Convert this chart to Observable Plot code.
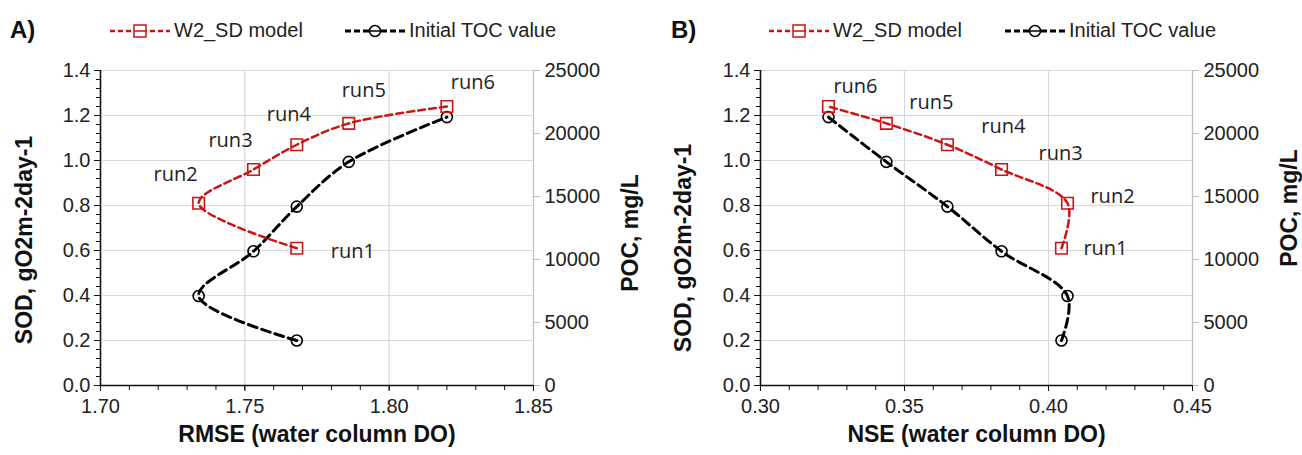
<!DOCTYPE html>
<html>
<head>
<meta charset="utf-8">
<script src="https://cdn.jsdelivr.net/npm/d3@7"></script>
<script src="https://cdn.jsdelivr.net/npm/@observablehq/plot@0.6"></script>
<style>
  html, body { margin: 0; padding: 0; background: #fff; }
  body { width: 1302px; height: 455px; overflow: hidden; font-family: "Liberation Sans", Arial, sans-serif; }
  #wrap { display: flex; }
  .panel { width: 651px; position: relative; }
  .legend { height: 50px; position: relative; }
  .legend .letter { position: absolute; top: 16px; font-weight: bold; font-size: 24px; color: #111; }
  .legend .item { position: absolute; top: 19px; font-size: 20px; color: #222; display: flex; align-items: center; }
  .legend svg { display: block; }
</style>
</head>
<body>
<div id="wrap"></div>
<script>
// ---------------- data ----------------
const runs = ["run1", "run2", "run3", "run4", "run5", "run6"];
const rmse = [1.768, 1.734, 1.753, 1.768, 1.786, 1.820];
const nse = [0.4045, 0.4066, 0.3837, 0.3649, 0.3437, 0.3236];
const sod = [0.61, 0.81, 0.96, 1.07, 1.165, 1.24];        // W2_SD model (left axis)
const poc = [3570, 7100, 10650, 14200, 17750, 21300];     // Initial TOC value (right axis)
const seriesNames = ["W2_SD model", "Initial TOC value"];
const sodTicks = [0, 0.2, 0.4, 0.6, 0.8, 1.0, 1.2, 1.4];
const pocTicks = [0, 5000, 10000, 15000, 20000, 25000];
const rmseTicks = [1.70, 1.75, 1.80, 1.85];
const nseTicks = [0.30, 0.35, 0.40, 0.45];
const panelLetters = ["A)", "B)"];
const xTitles = ["RMSE (water column DO)", "NSE (water column DO)"];
const yTitle = "SOD, gO2m-2day-1";
const y2Title = "POC, mg/L";

// ---------------- layout / style ----------------
const RED = "#cc1414";
const SOD_MAX = 1.4, POC_MAX = 25000;
const toSod = v => v * SOD_MAX / POC_MAX;
const labelOffsetsA = [[56, 3], [-23, -29], [-23, -29], [-8, -30], [15, -33], [26, -24]];
const labelOffsetsB = [[44, 0], [45, -7], [59, -16], [56, -18], [45, -21], [27, -20]];

function minorTicks(domain, step) {
  const n = Math.round((domain[1] - domain[0]) / step);
  return d3.range(n + 1).map(i => +(domain[0] + i * step).toFixed(4));
}

function swatch(color, symbol, dash, width) {
  const s = d3.create("svg").attr("width", 62).attr("height", 20);
  s.append("line").attr("x1", 1).attr("x2", 61).attr("y1", 10).attr("y2", 10)
    .attr("stroke", color).attr("stroke-width", width).attr("stroke-dasharray", dash);
  if (symbol === "square") {
    s.append("rect").attr("x", 25).attr("y", 4).attr("width", 12).attr("height", 12)
      .attr("fill", "#fff").attr("stroke", color).attr("stroke-width", 1.5);
    s.append("line").attr("x1", 25).attr("x2", 37).attr("y1", 10).attr("y2", 10)
      .attr("stroke", color).attr("stroke-width", 1.5);
  } else {
    s.append("circle").attr("cx", 31).attr("cy", 10).attr("r", 5.5)
      .attr("fill", "#fff").attr("stroke", color).attr("stroke-width", 1.5);
    s.append("line").attr("x1", 26).attr("x2", 36).attr("y1", 10).attr("y2", 10)
      .attr("stroke", color).attr("stroke-width", 1.5);
  }
  return s.node();
}

function makePanel(cfg) {
  const panel = document.createElement("div");
  panel.className = "panel";
  const leg = document.createElement("div");
  leg.className = "legend";
  const letter = document.createElement("div");
  letter.className = "letter";
  letter.style.left = cfg.letterX + "px";
  letter.textContent = cfg.letter;
  leg.appendChild(letter);
  [[RED, "square", "5,3", 2.5, cfg.leg1X, seriesNames[0]], ["#000", "circle", "6,3", 3, cfg.leg2X, seriesNames[1]]]
    .forEach(([c, sym, dash, w, x, name]) => {
      const it = document.createElement("div");
      it.className = "item";
      it.style.left = x + "px";
      it.appendChild(swatch(c, sym, dash, w));
      const t = document.createElement("span");
      t.textContent = name;
      t.style.marginLeft = "3px";
      it.appendChild(t);
      leg.appendChild(it);
    });
  panel.appendChild(leg);

  const xs = cfg.xValues;
  const model = runs.map((r, i) => ({run: r, x: xs[i], y: sod[i]}));
  const toc = runs.map((r, i) => ({run: r, x: xs[i], y: toSod(poc[i])}));
  const xd = [cfg.xTicks[0], cfg.xTicks[cfg.xTicks.length - 1]];
  const font = "'Liberation Sans', Arial, sans-serif";

  const chart = Plot.plot({
    width: 651, height: 405,
    marginTop: 20, marginBottom: 70, marginLeft: cfg.ml, marginRight: cfg.mr,
    style: {fontFamily: font, fontSize: "20px", color: "#222", background: "#fff", overflow: "visible"},
    x: {domain: xd},
    y: {domain: [0, SOD_MAX]},
    marks: [
      Plot.ruleY(sodTicks.filter(d => d > 0), {stroke: "#d9d9d9", strokeWidth: 1.2}),
      Plot.ruleX(cfg.xTicks.slice(1, -1), {stroke: "#d9d9d9", strokeWidth: 1.2}),
      Plot.ruleX([xd[1]], {stroke: "#bfbfbf", strokeWidth: 1.3}),
      Plot.axisY(pocTicks.map(toSod), {anchor: "right", tickSize: 6, tickPadding: 5, stroke: "#bfbfbf",
        fill: "#222", tickFormat: d => String(Math.round(d * POC_MAX / SOD_MAX)), label: null, fontSize: 20}),
      Plot.axisY(minorTicks([0, SOD_MAX], 0.04), {anchor: "left", tickSize: 4, tickFormat: () => "", label: null, stroke: "#111"}),
      Plot.axisY(sodTicks, {anchor: "left", tickSize: 6, tickPadding: 4, tickFormat: d3.format(".1f"), label: null, stroke: "#111", fill: "#222", fontSize: 20}),
      Plot.axisX(minorTicks(xd, 0.01), {anchor: "bottom", tickSize: 5, tickFormat: () => "", label: null, stroke: "#111"}),
      Plot.axisX(cfg.xTicks, {anchor: "bottom", tickSize: 6, tickPadding: 7, tickFormat: d3.format(".2f"), label: null, stroke: "#111", fill: "#222", fontSize: 20}),
      Plot.ruleX([xd[0]], {stroke: "#111", strokeWidth: 1.6}),
      Plot.ruleY([0], {stroke: "#111", strokeWidth: 1.6}),
      Plot.line(toc, {x: "x", y: "y", stroke: "#000", strokeWidth: 3, strokeDasharray: "9,5", curve: "catmull-rom"}),
      Plot.dot(toc, {x: "x", y: "y", r: 5.5, stroke: "#000", strokeWidth: 1.6, fill: "none"}),
      Plot.line(model, {x: "x", y: "y", stroke: RED, strokeWidth: 2.5, strokeDasharray: "7,4", curve: "catmull-rom"}),
      Plot.dot(model, {x: "x", y: "y", symbol: "square", r: 6.5, stroke: RED, strokeWidth: 1.6, fill: "none"}),
      ...model.map((d, i) => Plot.text([d], {x: "x", y: "y", text: "run", dx: cfg.offsets[i][0], dy: cfg.offsets[i][1],
        fontSize: 20, fontFamily: "'Open Sans', 'Noto Sans', sans-serif", fill: "#222"})),
      Plot.text([cfg.xTitle], {frameAnchor: "bottom", textAnchor: "middle", dy: 56, fontWeight: "bold", fontSize: 23, fill: "#111"}),
      Plot.text([yTitle], {frameAnchor: "left", textAnchor: "middle", rotate: -90, dx: cfg.ytDx, dy: cfg.ytDy, fontWeight: "bold", fontSize: 23, fill: "#111"}),
      Plot.text([y2Title], {frameAnchor: "right", textAnchor: "middle", rotate: -90, dx: 97, dy: cfg.y2tDy, fontWeight: "bold", fontSize: 23, fill: "#111"})
    ]
  });
  panel.appendChild(chart);
  return panel;
}

const wrap = document.getElementById("wrap");
wrap.appendChild(makePanel({
  letter: panelLetters[0], letterX: 10, leg1X: 109, leg2X: 344,
  xValues: rmse, xTicks: rmseTicks, xTitle: xTitles[0], offsets: labelOffsetsA,
  ml: 100, mr: 118, ytDx: -76, ytDy: 12, y2tDy: 5
}));
wrap.appendChild(makePanel({
  letter: panelLetters[1], letterX: 20, leg1X: 117, leg2X: 353,
  xValues: nse, xTicks: nseTicks, xTitle: xTitles[1], offsets: labelOffsetsB,
  ml: 109, mr: 110, ytDx: -77, ytDy: 20, y2tDy: -20
}));
</script>
</body>
</html>
